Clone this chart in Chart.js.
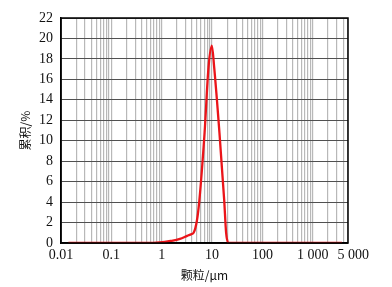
<!DOCTYPE html>
<html>
<head>
<meta charset="utf-8">
<script src="https://cdn.jsdelivr.net/npm/chart.js@4/dist/chart.umd.min.js"></script>
<style>
  html, body { margin: 0; padding: 0; background: #fff; }
  #wrap { width: 392px; height: 287px; }
</style>
</head>
<body>
<div id="wrap"><canvas id="sizeChart"></canvas></div>
<script>
// particle size (um) and cumulative %
var sizes = [0.014, 0.1, 0.5, 0.9, 1.5, 2.3, 3.2, 3.8, 4.3, 5.0, 5.6, 7.1, 8.5, 9.9, 11, 14, 17.4, 19, 21.3, 30, 100, 1000, 3800];
var values = [0, 0, 0, 0.05, 0.2, 0.4, 0.7, 0.85, 1.0, 2.2, 4.2, 10.8, 17.2, 19.3, 17.2, 10.8, 4.2, 1.0, 0, 0, 0, 0, 0];

// last label sits a little right of its tick in the original
var xLabels = { 0.01: '0.01', 0.1: '0.1', 1: '1', 10: '10', 100: '100', 1000: '1 000', 5000: '\u00a0\u00a0\u00a05 000' };
var yMax = 22;

var points = sizes.map(function(s, i) { return { x: s, y: values[i] }; });

var frame = {
    id: 'frame',
    afterDraw: function(chart) {
        var a = chart.chartArea, ctx = chart.ctx;
        ctx.save();
        ctx.strokeStyle = '#000';
        ctx.lineWidth = 1.5;
        ctx.strokeRect(a.left, a.top, a.right - a.left, a.bottom - a.top);
        ctx.restore();
    }
};

var serif = "'Liberation Serif', 'DejaVu Serif', serif";

var myChart = new Chart(document.getElementById('sizeChart'), {
    type: 'line',
    data: {
        datasets: [
            {
                data: points,
                borderColor: 'rgb(235, 20, 25)',
                borderWidth: 2.3,
                pointRadius: 0,
                fill: false,
                cubicInterpolationMode: 'monotone'
            }
        ]
    },
    options: {
        responsive: true,
        maintainAspectRatio: false,
        animation: false,
        layout: { padding: { top: 18, right: 44, left: 0, bottom: 0 } },
        plugins: { legend: { display: false }, tooltip: { enabled: false } },
        scales: {
            x: {
                type: 'logarithmic',
                min: 0.01,
                max: 5000,
                afterBuildTicks: function(scale) {
                    var t = [];
                    for (var d = 0.01; d < 5000; d *= 10) {
                        for (var m = 1; m <= 9; m++) {
                            var v = parseFloat((m * d).toPrecision(3));
                            if (v <= 5000) t.push({ value: v });
                        }
                    }
                    scale.ticks = t;
                },
                afterFit: function(scale) { scale.height = 44; },
                ticks: {
                    autoSkip: false,
                    maxRotation: 0,
                    padding: 4,
                    color: '#111',
                    font: { family: serif, size: 14 },
                    callback: function(v) { return xLabels[v] || ''; }
                },
                grid: { color: '#b8b8b8', lineWidth: 1.2, drawTicks: false },
                border: { color: '#000', width: 1.5 },
                title: {
                    display: true,
                    text: '颗粒/μm',
                    color: '#111',
                    padding: { top: 1 },
                    font: { family: "'Noto Sans CJK SC', serif", size: 12 }
                }
            },
            y: {
                min: 0,
                max: yMax,
                afterFit: function(scale) { scale.width = 61; },
                ticks: {
                    stepSize: 2,
                    padding: 8,
                    color: '#111',
                    font: { family: serif, size: 14 }
                },
                grid: { color: '#505050', lineWidth: 1, drawTicks: false },
                border: { color: '#000', width: 1.5 },
                title: {
                    display: true,
                    text: '累积/%',
                    color: '#111',
                    padding: { top: 18, bottom: 0 },
                    font: { family: "'Noto Sans CJK SC', serif", size: 12 }
                }
            }
        }
    },
    plugins: [frame]
});
</script>
</body>
</html>
